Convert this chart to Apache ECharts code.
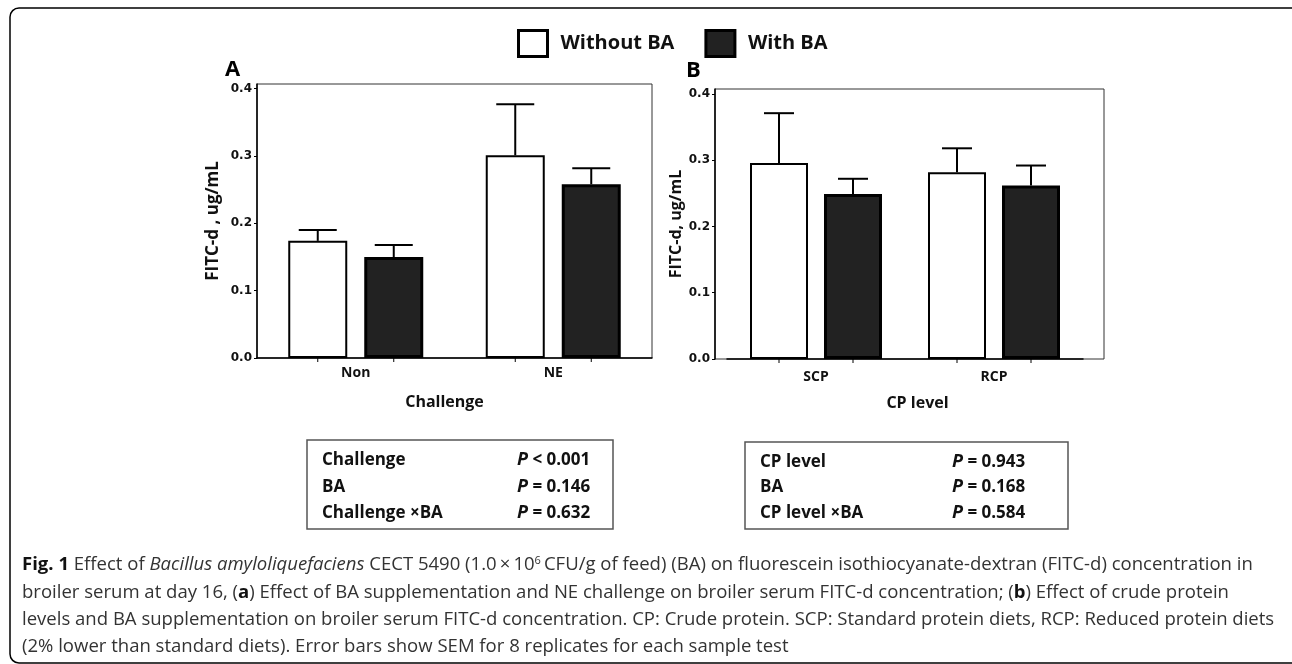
<!DOCTYPE html>
<html>
<head>
<meta charset="utf-8">
<script src="https://cdn.jsdelivr.net/npm/echarts@6/dist/echarts.min.js"></script>
<style>
  html, body { margin: 0; padding: 0; background: #fff; }
  #chart { width: 1292px; height: 664px; }
</style>
</head>
<body>
<div id="chart"></div>
<script>
// Panel A: NE challenge x BA
const challengeCats = ['Non', 'NE'];
const challengeWithout = [0.174, 0.301];
const challengeWithoutSem = [0.016, 0.076];
const challengeWith = [0.150, 0.258];
const challengeWithSem = [0.018, 0.024];

// Panel B: crude protein level x BA
const cpCats = ['SCP', 'RCP'];
const cpWithout = [0.296, 0.282];
const cpWithoutSem = [0.075, 0.036];
const cpWith = [0.249, 0.262];
const cpWithSem = [0.023, 0.030];

const yTicks = [0, 0.1, 0.2, 0.3, 0.4];

// ANOVA p-values shown under each panel: [effect, relation, value]
const statsA = [['Challenge', '<', '0.001'], ['BA', '=', '0.146'], ['Challenge ×BA', '=', '0.632']];
const statsB = [['CP level', '=', '0.943'], ['BA', '=', '0.168'], ['CP level ×BA', '=', '0.584']];

const seriesNames = ['Without BA', 'With BA'];

const captionLines = [
  '{b|Fig. 1} Effect of {i|Bacillus amyloliquefaciens} CECT 5490 (1.0\u2009×\u200910{sup|6}\u2009CFU/g of feed) (BA) on fluorescein isothiocyanate-dextran (FITC-d) concentration in',
  'broiler serum at day 16, ({b|a}) Effect of BA supplementation and NE challenge on broiler serum FITC-d concentration; ({b|b}) Effect of crude protein',
  'levels and BA supplementation on broiler serum FITC-d concentration. CP: Crude protein. SCP: Standard protein diets, RCP: Reduced protein diets',
  '(2% lower than standard diets). Error bars show SEM for 8 replicates for each sample test'
];

const SANS = '"Open Sans", sans-serif';
const TICKF = '"DejaVu Sans", sans-serif';
const CAP_SIZE = 18.55;

const whiteBar = { color: '#ffffff', borderColor: '#000', borderWidth: 2 };
const blackBar = { color: '#222222', borderColor: '#000', borderWidth: 3 };

// bar geometry (px) per panel
const barA = { w: 59, gap: 17, cap: 38 };
const barB = { w: 58, gap: 16, cap: 30 };

function errorBars(side, geo) {
  return function (params, api) {
    const ci = api.value(0), v = api.value(1), e = api.value(2);
    const shift = side * (geo.w + geo.gap) / 2;
    const pTop = api.coord([ci, v]);
    const pErr = api.coord([ci, v + e]);
    const pZero = api.coord([ci, 0]);
    const x = pTop[0] + shift;
    const st = { stroke: '#000', lineWidth: 2, fill: 'none' };
    return {
      type: 'group',
      children: [
        { type: 'line', shape: { x1: x, y1: pTop[1], x2: x, y2: pErr[1] }, style: st },
        { type: 'line', shape: { x1: x - geo.cap / 2, y1: pErr[1], x2: x + geo.cap / 2, y2: pErr[1] }, style: st },
        { type: 'line', shape: { x1: x, y1: pZero[1], x2: x, y2: pZero[1] + 4 }, style: { stroke: '#000', lineWidth: 1 } }
      ]
    };
  };
}

function errData(vals, sems) {
  return vals.map((v, i) => [i, v, sems[i]]);
}

function valueAxis(gridIndex, max, nameGap, nameSize, name, offset) {
  return {
    gridIndex, type: 'value', min: 0, max, offset: offset || 0,
    name, nameLocation: 'middle', nameGap,
    nameTextStyle: { fontFamily: SANS, fontWeight: 'bold', fontSize: nameSize, color: '#111' },
    axisLine: { show: true, lineStyle: { color: '#000', width: 1.5 } },
    axisTick: { show: true, length: 3, inside: false, customValues: yTicks, lineStyle: { color: '#000', width: 1 } },
    axisLabel: {
      customValues: yTicks, margin: 5,
      fontFamily: TICKF, fontWeight: 'bold', fontSize: 12, color: '#111',
      formatter: v => v.toFixed(1)
    },
    splitLine: { show: false }
  };
}

function catAxis(gridIndex, data, name, nameGap, labelMargin, namePad) {
  return {
    gridIndex, type: 'category', data,
    name, nameLocation: 'middle', nameGap,
    nameTextStyle: { fontFamily: SANS, fontWeight: 'bold', fontSize: 16, color: '#111', padding: namePad },
    axisLine: { show: true, lineStyle: { color: '#000', width: 1.5 } },
    axisTick: { show: false },
    axisLabel: { margin: labelMargin, fontFamily: SANS, fontWeight: 'bold', fontSize: 14, color: '#111' },
    splitLine: { show: false }
  };
}

function statsBox(x, y, w, h, rows, valueX, rowYs) {
  const children = [{
    type: 'rect', shape: { x, y, width: w, height: h },
    style: { fill: '#fff', stroke: '#555', lineWidth: 1.5 }
  }];
  rows.forEach((r, i) => {
    children.push({
      type: 'text', x: x + 15, y: rowYs[i],
      style: { text: r[0], fontFamily: SANS, fontWeight: 'bold', fontSize: 17, fill: '#111', verticalAlign: 'middle' }
    });
    children.push({
      type: 'text', x: valueX, y: rowYs[i],
      style: {
        text: '{p|P} ' + r[1] + ' ' + r[2],
        fontFamily: SANS, fontWeight: 'bold', fontSize: 17, fill: '#111', verticalAlign: 'middle',
        rich: { p: { fontFamily: SANS, fontWeight: 'bold', fontStyle: 'italic', fontSize: 18, fill: '#111' } }
      }
    });
  });
  return { type: 'group', children };
}

const captionRich = {
  b: { fontFamily: SANS, fontWeight: 'bold', fontSize: CAP_SIZE, fill: '#111' },
  i: { fontFamily: SANS, fontStyle: 'italic', fontSize: CAP_SIZE, fill: '#333' },
  sup: { fontFamily: SANS, fontSize: 11, fill: '#333', verticalAlign: 'top', padding: [0, 0, 8, 0] }
};

const graphics = [
  {
    type: 'rect', z: -10, silent: true,
    shape: { x: 10, y: 8, width: 1300, height: 655, r: 9 },
    style: { fill: 'none', stroke: '#000', lineWidth: 1.5 }
  },
  { type: 'text', x: 225, y: 70, style: { text: 'A', fontFamily: SANS, fontWeight: 'bold', fontSize: 22, fill: '#000', verticalAlign: 'middle' } },
  { type: 'text', x: 686, y: 71, style: { text: 'B', fontFamily: SANS, fontWeight: 'bold', fontSize: 22, fill: '#000', verticalAlign: 'middle' } },
  statsBox(307, 440, 306, 89, statsA, 517, [460, 487, 513]),
  statsBox(745, 442, 323, 87, statsB, 952, [462, 487, 513])
];
captionLines.forEach((line, i) => {
  graphics.push({
    type: 'text', x: 22, y: 565 + i * 27.3,
    style: {
      text: line, fontFamily: SANS, fontSize: CAP_SIZE, fill: '#333', verticalAlign: 'middle',
      rich: captionRich
    }
  });
});

const chart = echarts.init(document.getElementById('chart'), null, { renderer: 'canvas' });

chart.setOption({
  animation: false,
  backgroundColor: '#fff',
  legend: {
    left: 512, top: 24,
    itemWidth: 29, itemHeight: 26, itemGap: 30,
    icon: 'rect',
    data: [
      { name: seriesNames[0], itemStyle: { color: '#fff', borderColor: '#000', borderWidth: 3 } },
      { name: seriesNames[1], itemStyle: { color: '#222', borderColor: '#000', borderWidth: 3 } }
    ],
    textStyle: { fontFamily: SANS, fontWeight: 'bold', fontSize: 20, color: '#111', padding: [0, 0, 0, 8] },
    selectedMode: false
  },
  grid: [
    { left: 257, top: 84, width: 395, height: 274, show: true, borderColor: '#333', borderWidth: 1 },
    { left: 715, top: 89, width: 389, height: 270, show: true, borderColor: '#333', borderWidth: 1 },
    { left: 727, top: 89, width: 356, height: 270, show: false }
  ],
  xAxis: [
    catAxis(0, challengeCats, 'Challenge', 36, 8, [0, 20, 0, 0]),
    { gridIndex: 1, type: 'value', show: false },
    catAxis(2, cpCats, 'CP level', 36, 11, [0, 0, 0, 25])
  ],
  yAxis: [
    valueAxis(0, 0.407, 35, 17, 'FITC-d , ug/mL'),
    { gridIndex: 1, type: 'value', show: false },
    valueAxis(2, 0.4075, 29, 16, 'FITC-d, ug/mL', 12)
  ],
  series: [
    {
      type: 'bar', name: seriesNames[0], xAxisIndex: 0, yAxisIndex: 0, data: challengeWithout,
      barWidth: barA.w, barGap: (barA.gap / barA.w * 100) + '%', itemStyle: whiteBar
    },
    {
      type: 'bar', name: seriesNames[1], xAxisIndex: 0, yAxisIndex: 0, data: challengeWith,
      barWidth: barA.w, barGap: (barA.gap / barA.w * 100) + '%', itemStyle: blackBar
    },
    {
      type: 'bar', name: seriesNames[0], xAxisIndex: 2, yAxisIndex: 2, data: cpWithout,
      barWidth: barB.w, barGap: (barB.gap / barB.w * 100) + '%', itemStyle: whiteBar
    },
    {
      type: 'bar', name: seriesNames[1], xAxisIndex: 2, yAxisIndex: 2, data: cpWith,
      barWidth: barB.w, barGap: (barB.gap / barB.w * 100) + '%', itemStyle: blackBar
    },
    { type: 'custom', name: 'semA0', xAxisIndex: 0, yAxisIndex: 0, z: 5, renderItem: errorBars(-1, barA), data: errData(challengeWithout, challengeWithoutSem) },
    { type: 'custom', name: 'semA1', xAxisIndex: 0, yAxisIndex: 0, z: 5, renderItem: errorBars(1, barA), data: errData(challengeWith, challengeWithSem) },
    { type: 'custom', name: 'semB0', xAxisIndex: 2, yAxisIndex: 2, z: 5, renderItem: errorBars(-1, barB), data: errData(cpWithout, cpWithoutSem) },
    { type: 'custom', name: 'semB1', xAxisIndex: 2, yAxisIndex: 2, z: 5, renderItem: errorBars(1, barB), data: errData(cpWith, cpWithSem) }
  ],
  graphic: graphics
});
</script>
</body>
</html>
